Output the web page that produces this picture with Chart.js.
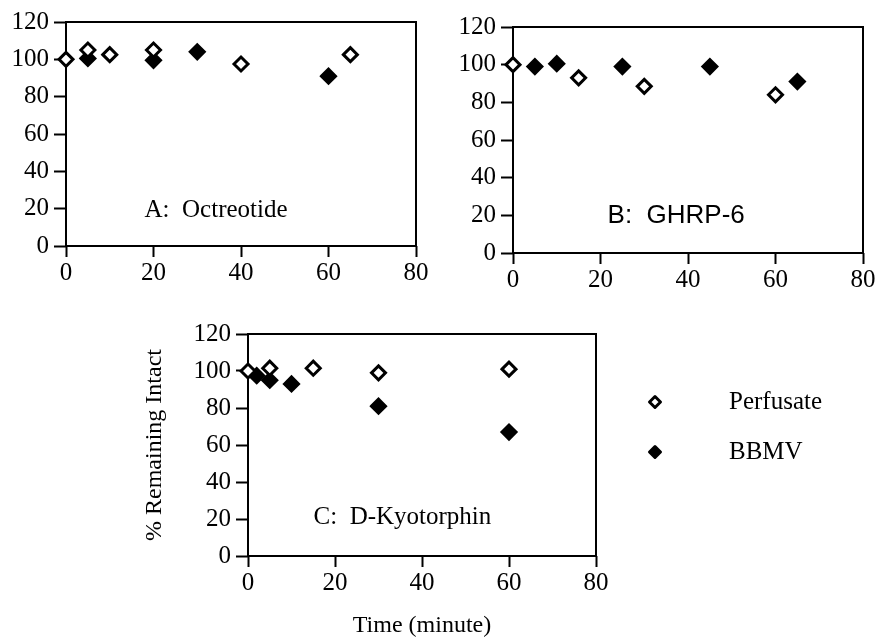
<!DOCTYPE html>
<html>
<head>
<meta charset="utf-8">
<script src="https://cdn.jsdelivr.net/npm/chart.js@4/dist/chart.umd.min.js"></script>
<style>
  body { margin: 0; background: #fff; }
  .panel { position: absolute; }
</style>
</head>
<body>
<div class="panel" style="left:0px;top:0px;width:430px;height:290px"><canvas id="chartA"></canvas></div>
<div class="panel" style="left:440px;top:0px;width:438px;height:290px"><canvas id="chartB"></canvas></div>
<div class="panel" style="left:140px;top:310px;width:738px;height:330px"><canvas id="chartC"></canvas></div>
<script>
// data block
const seriesNames = ['Perfusate', 'BBMV'];
const xTicks = [0, 20, 40, 60, 80];
const yTicks = [0, 20, 40, 60, 80, 100, 120];

// A: Octreotide
const octPerfT = [0, 5, 10, 20, 40, 65];
const octPerfV = [100, 105, 102.5, 105, 97.5, 102.5];
const octBbmvT = [5, 20, 30, 60];
const octBbmvV = [100.5, 99.5, 104, 91];

// B: GHRP-6
const ghrpPerfT = [0, 15, 30, 60];
const ghrpPerfV = [100, 93, 88.5, 84];
const ghrpBbmvT = [5, 10, 25, 45, 65];
const ghrpBbmvV = [99, 100.5, 99, 99, 91];

// C: D-Kyotorphin
const kyoPerfT = [0, 5, 15, 30, 60];
const kyoPerfV = [100, 101.5, 101.5, 99, 101];
const kyoBbmvT = [2, 5, 10, 30, 60];
const kyoBbmvV = [97.5, 95, 93, 81, 67];

const serif = "'Liberation Serif', 'Times New Roman', serif";
const sans = "'Liberation Sans', Arial, sans-serif";

const toPoints = (xs, ys) => xs.map((x, i) => ({ x: x, y: ys[i] }));

// box round the plot area
const boxPlugin = {
    id: 'box',
    beforeDatasetsDraw(chart) {
        const a = chart.chartArea;
        const ctx = chart.ctx;
        ctx.save();
        ctx.strokeStyle = '#000';
        ctx.lineWidth = 2;
        ctx.strokeRect(a.left, a.top, a.right - a.left, a.bottom - a.top);
        ctx.restore();
    }
};

// panel name inside the plot, placed in data units
const panelLabel = {
    id: 'panelLabel',
    afterDraw(chart, args, opts) {
        const ctx = chart.ctx;
        ctx.save();
        ctx.font = opts.font;
        ctx.fillStyle = '#000';
        ctx.textAlign = 'center';
        ctx.textBaseline = 'middle';
        ctx.fillText(opts.text, chart.scales.x.getPixelForValue(opts.x), chart.scales.y.getPixelForValue(opts.y));
        ctx.restore();
    }
};

function diamond(ctx, x, y, r, filled) {
    ctx.beginPath();
    ctx.moveTo(x, y - r);
    ctx.lineTo(x + r, y);
    ctx.lineTo(x, y + r);
    ctx.lineTo(x - r, y);
    ctx.closePath();
    ctx.fillStyle = filled ? '#000' : '#fff';
    ctx.fill();
    ctx.lineWidth = 3;
    ctx.lineJoin = 'round';
    ctx.strokeStyle = '#000';
    ctx.stroke();
}

// legend to the right of panel C
const sideLegend = {
    id: 'sideLegend',
    afterDraw(chart) {
        const ctx = chart.ctx;
        const a = chart.chartArea;
        ctx.save();
        chart.data.datasets.forEach((ds, i) => {
            const y = a.top + 68 + i * 50;
            diamond(ctx, a.right + 59, y, 5.5, i === 1);
            ctx.fillStyle = '#000';
            ctx.font = '25px ' + serif;
            ctx.textAlign = 'left';
            ctx.textBaseline = 'middle';
            ctx.fillText(ds.label, a.right + 133, y);
        });
        ctx.restore();
    }
};

function makePanel(id, perfT, perfV, bbmvT, bbmvV, lay, label, extra) {
    const ctx = document.getElementById(id);
    const tickFont = { family: serif, size: 25 };
    const config = {
        type: 'scatter',
        data: {
            datasets: [
                {
                    label: seriesNames[0],
                    data: toPoints(perfT, perfV),
                    clip: false,
                    pointStyle: 'rectRot',
                    pointRadius: 7,
                    pointBorderWidth: 3,
                    borderColor: '#000',
                    backgroundColor: '#fff'
                },
                {
                    label: seriesNames[1],
                    data: toPoints(bbmvT, bbmvV),
                    clip: false,
                    pointStyle: 'rectRot',
                    pointRadius: 7,
                    pointBorderWidth: 3,
                    borderColor: '#000',
                    backgroundColor: '#000'
                }
            ]
        },
        options: {
            responsive: true,
            maintainAspectRatio: false,
            animation: false,
            layout: { padding: { top: lay.top, right: lay.right, left: 0, bottom: 0 } },
            scales: {
                x: {
                    type: 'linear',
                    min: 0, max: 80,
                    afterBuildTicks: s => { s.ticks = xTicks.map(v => ({ value: v })); },
                    afterFit: s => { s.height = lay.xh; },
                    border: { display: false },
                    grid: { drawOnChartArea: false, drawTicks: true, tickLength: 11, tickWidth: 2, tickColor: '#000' },
                    ticks: { color: '#000', font: tickFont, padding: 1, maxRotation: 0 },
                    title: lay.xTitle ? { display: true, text: lay.xTitle, color: '#000', font: { family: serif, size: 24 }, padding: 0 } : { display: false }
                },
                y: {
                    type: 'linear',
                    min: 0, max: 120,
                    afterBuildTicks: s => { s.ticks = yTicks.map(v => ({ value: v })); },
                    afterFit: s => { s.width = lay.yw; },
                    border: { display: false },
                    grid: { drawOnChartArea: false, drawTicks: true, tickLength: 12, tickWidth: 2, tickColor: '#000' },
                    ticks: { color: '#000', font: tickFont, padding: 5 },
                    title: lay.yTitle ? { display: true, text: lay.yTitle, color: '#000', font: { family: serif, size: 24 }, padding: 0 } : { display: false }
                }
            },
            plugins: {
                legend: { display: false },
                tooltip: { enabled: false },
                panelLabel: label
            }
        },
        plugins: [boxPlugin, panelLabel].concat(extra || [])
    };
    return new Chart(ctx, config);
}

const chartA = makePanel('chartA', octPerfT, octPerfV, octBbmvT, octBbmvV,
    { top: 22, right: 14, yw: 66, xh: 44 },
    { text: 'A:  Octreotide', x: 34.3, y: 19.3, font: '25px ' + serif });

const chartB = makePanel('chartB', ghrpPerfT, ghrpPerfV, ghrpBbmvT, ghrpBbmvV,
    { top: 27, right: 15, yw: 73, xh: 37 },
    { text: 'B:  GHRP-6', x: 37.3, y: 19.5, font: '26px ' + sans });

const chartC = makePanel('chartC', kyoPerfT, kyoPerfV, kyoBbmvT, kyoBbmvV,
    { top: 24, right: 282, yw: 108, xh: 84, xTitle: 'Time (minute)', yTitle: '% Remaining Intact' },
    { text: 'C:  D-Kyotorphin', x: 35.5, y: 21, font: '25px ' + serif },
    [sideLegend]);
</script>
</body>
</html>
